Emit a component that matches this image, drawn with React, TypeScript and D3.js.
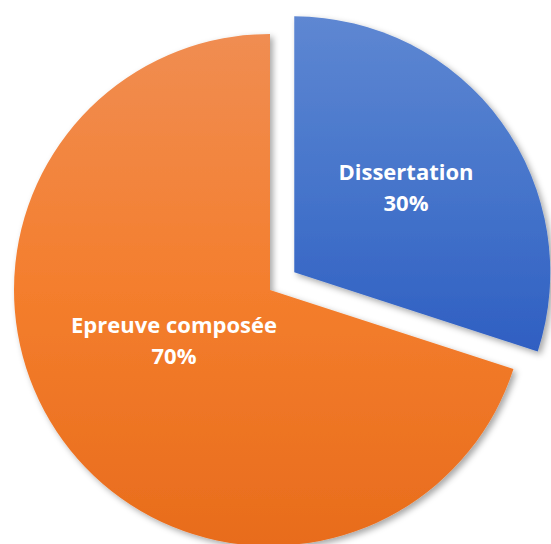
import * as d3 from "d3";

const labels = ["Dissertation", "Epreuve composée"];
const values = [30, 70];
const exploded = [true, false];

export default function App() {
  const width = 551;
  const height = 544;
  const cx = 270;
  const cy = 290;
  const radius = 256;
  const explode = 30;

  const pie = d3
    .pie<number>()
    .sort(null)
    .startAngle(0)
    .endAngle(2 * Math.PI)
    .value((d) => d);
  const arcs = pie(values);
  const arc = d3.arc<d3.PieArcDatum<number>>().innerRadius(0).outerRadius(radius);

  // gradient coords are in each slice's local space (centre = 0,0)
  const grads = [
    { id: "gBlue", stops: ["#5e87d2", "#4675cb", "#2f5fc2"], y1: -radius, y2: 80 },
    { id: "gOrange", stops: ["#f08d52", "#f47e2d", "#e86c1c"], y1: -radius, y2: radius },
  ];

  const total = d3.sum(values);
  const labelPos = [
    { x: 406, y: 172 },
    { x: 174, y: 325 },
  ];

  return (
    <svg
      width={width}
      height={height}
      style={{ position: "absolute", left: 0, top: 0, background: "#fff" }}
    >
      <defs>
        {grads.map((g) => (
          <linearGradient key={g.id} id={g.id} gradientUnits="userSpaceOnUse" x1={0} x2={0} y1={g.y1} y2={g.y2}>
            {g.stops.map((c, k) => (
              <stop key={k} offset={`${(k / (g.stops.length - 1)) * 100}%`} stopColor={c} />
            ))}
          </linearGradient>
        ))}
        <filter id="shadow" x="-10%" y="-10%" width="130%" height="130%">
          <feDropShadow dx={3} dy={3} stdDeviation={3} floodColor="#000" floodOpacity={0.35} />
        </filter>
      </defs>
      {arcs.map((a, i) => {
        const mid = (a.startAngle + a.endAngle) / 2;
        const off = exploded[i] ? explode : 0;
        const dx = Math.sin(mid) * off;
        const dy = -Math.cos(mid) * off;
        return (
          <path
            key={labels[i]}
            d={arc(a) ?? ""}
            transform={`translate(${cx + dx},${cy + dy})`}
            fill={`url(#${grads[i].id})`}
            filter="url(#shadow)"
          />
        );
      })}
      {arcs.map((a, i) => (
        <text
          key={`t${labels[i]}`}
          x={labelPos[i].x}
          y={labelPos[i].y}
          textAnchor="middle"
          fontFamily="'Open Sans', sans-serif"
          fontWeight="bold"
          fontSize={22}
          fill="#fff"
        >
          <tspan x={labelPos[i].x} dy="0.35em">{labels[i]}</tspan>
          <tspan x={labelPos[i].x} dy="1.4em">{Math.round((a.data / total) * 100)}%</tspan>
        </text>
      ))}
    </svg>
  );
}
